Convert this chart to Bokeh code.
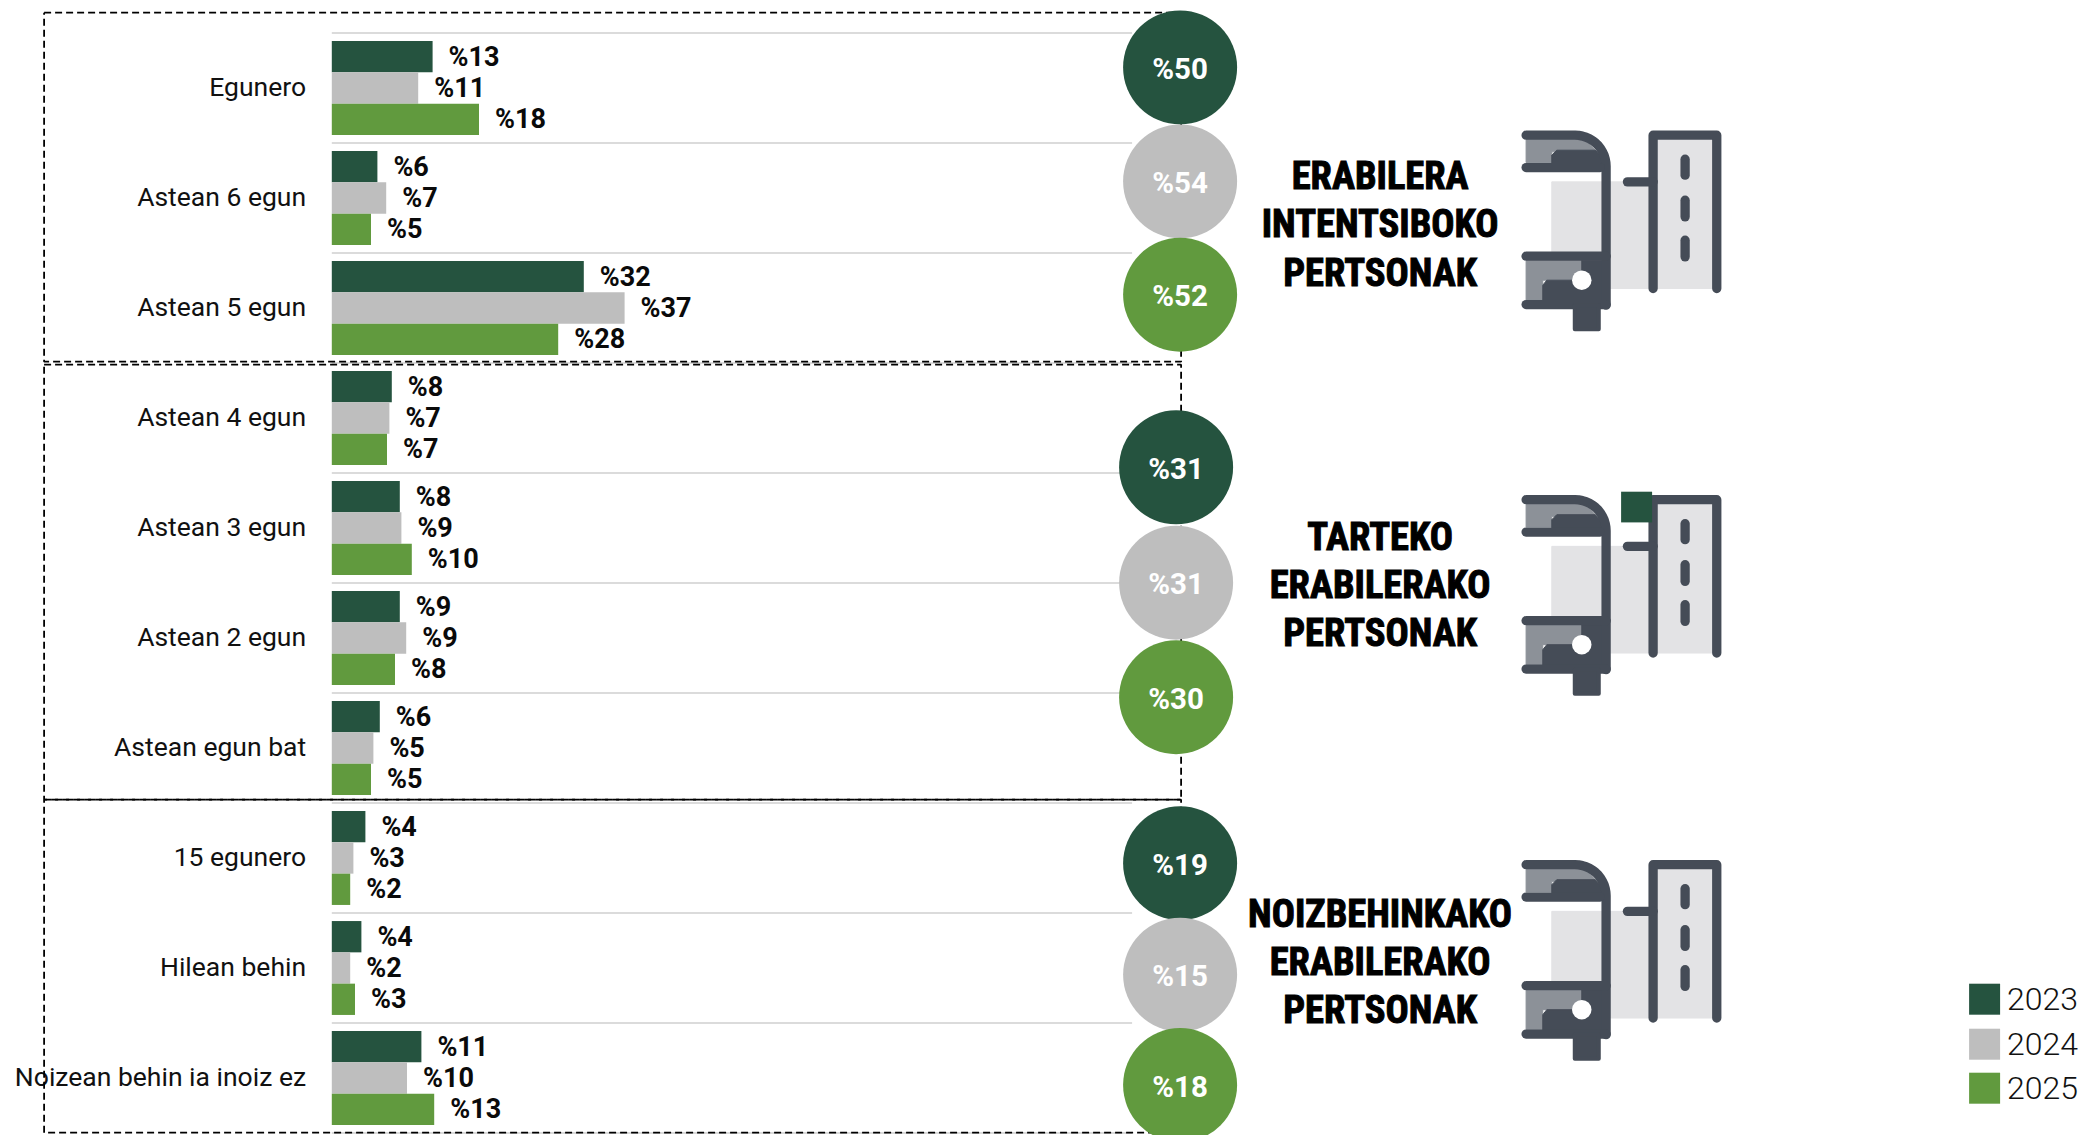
import numpy as np
from bokeh.embed import file_html
from bokeh.models import Range1d
from bokeh.plotting import figure
from bokeh.resources import INLINE
from bokeh.core.properties import value

categories = ["Egunero", "Astean 6 egun", "Astean 5 egun", "Astean 4 egun", "Astean 3 egun",
              "Astean 2 egun", "Astean egun bat", "15 egunero", "Hilean behin", "Noizean behin ia inoiz ez"]
years = ["2023", "2024", "2025"]
colors = ["#25533F", "#BEBEBE", "#619A3E"]
bars_2023 = [12.6, 5.7, 31.5, 7.5, 8.5, 8.5, 6.0, 4.2, 3.7, 11.2]
bars_2024 = [10.8, 6.8, 36.6, 7.2, 8.7, 9.3, 5.2, 2.7, 2.3, 9.4]
bars_2025 = [18.4, 4.9, 28.3, 6.9, 10.0, 7.9, 4.9, 2.3, 2.9, 12.8]
labels_2023 = [13, 6, 32, 8, 8, 9, 6, 4, 4, 11]
labels_2024 = [11, 7, 37, 7, 9, 9, 5, 3, 2, 10]
labels_2025 = [18, 5, 28, 7, 10, 8, 5, 2, 3, 13]
totals = [[50, 54, 52], [31, 31, 30], [19, 15, 18]]
titles = [["ERABILERA", "INTENTSIBOKO", "PERTSONAK"],
          ["TARTEKO", "ERABILERAKO", "PERTSONAK"],
          ["NOIZBEHINKAKO", "ERABILERAKO", "PERTSONAK"]]

W, H = 2083, 1135
SX, SY = 0.4, 0.8
p = figure(width=W, height=H, output_backend="svg", toolbar_location=None,
           x_range=Range1d(SX, W + SX), y_range=Range1d(H + SY, SY),
           x_axis_type=None, y_axis_type=None, min_border=0,
           outline_line_color=None, background_fill_color="white")
p.grid.visible = False

X0, PX = 331.7, 8.0
p.extra_x_ranges["pct"] = Range1d((SX - X0) / PX, (W + SX - X0) / PX)

ROW0, ROW_H, BAR_H = 33.3, 110.0, 31.3
FONT = value("Roboto")
COND = value("Roboto Condensed")

# grid lines
gy = [ROW0 + i * ROW_H for i in range(len(categories) + 1)]
p.segment(x0=[X0] * len(gy), x1=[1132] * len(gy), y0=gy, y1=gy, line_color="#cfcfcf", line_width=1.6)

# bars and their labels
for k, (vals, labs) in enumerate(zip([bars_2023, bars_2024, bars_2025], [labels_2023, labels_2024, labels_2025])):
    ys = [ROW0 + i * ROW_H + 55 + (k - 1) * BAR_H for i in range(len(vals))]
    p.hbar(y=ys, left=0, right=vals, height=BAR_H, x_range_name="pct", fill_color=colors[k], line_color=None)
    p.text(x=vals, y=ys, text=[f"%{v}" for v in labs], x_range_name="pct", x_offset=16,
           text_font=FONT, text_font_style="bold", text_font_size="27px", text_color="#0a0a0a",
           text_align="left", text_baseline="middle")

# category labels
p.text(x=[306] * len(categories), y=[ROW0 + i * ROW_H + 53 for i in range(len(categories))], text=categories,
       text_font=FONT, text_font_size="26.5px", text_color="#111111", text_align="right", text_baseline="middle")

# dashed boxes
for top, bottom in [(13, 362), (365, 800), (800, 1133)]:
    p.line(x=[44, 1181, 1181, 44, 44], y=[top, top, bottom, bottom, top], line_color="#000000",
           line_width=1.8, line_dash="7 4")

# circles
cx = [1180, 1176, 1180]
cy = [[67.7, 181.7, 295], [467.6, 583, 697.5], [863.5, 975, 1085.4]]
for g in range(3):
    p.scatter(x=[cx[g]] * 3, y=cy[g], size=114, marker="circle", fill_color=colors, line_color=None)
    p.text(x=[cx[g]] * 3, y=[v + 1.5 for v in cy[g]], text=[f"%{v}" for v in totals[g]], text_font=FONT,
           text_font_style="bold", text_font_size="29.5px", text_color="white", text_align="center",
           text_baseline="middle")

# group titles
title_y = [[176, 224, 272.7], [536.7, 584.5, 632.4], [914, 962, 1010]]
for g in range(3):
    p.text(x=[1380] * 3, y=title_y[g], text=titles[g], text_font=COND, text_font_style="bold",
           text_font_size="38.5px", text_color="#000000", text_outline_color="#000000",
           text_align="center", text_baseline="middle")

# icon
DARK, MID, LIGHT = "#454C57", "#8C9198", "#E3E3E5"
def icon(ox, oy):
    X = lambda a: [ox + v / 3 for v in a]
    Y = lambda a: [oy + v / 3 for v in a]
    def fill(xs, ys, c):
        p.patch(x=X(xs), y=Y(ys), fill_color=c, line_color=c, line_width=1)
    def stroke(xs, ys):
        p.line(x=X(xs), y=Y(ys), line_color=DARK, line_width=9.3, line_cap="round", line_join="round")
    fill([155, 445, 445, 155], [230, 230, 550, 550], LIGHT)
    fill([459, 650, 650, 459], [90, 90, 550, 550], LIGHT)
    fill([78, 225, 262, 290, 155, 155, 78], [100, 100, 110, 140, 140, 172, 172], MID)
    fill([78, 245, 245, 128, 128, 78], [465, 465, 525, 525, 585, 585], MID)
    fill([155, 170, 285, 318, 318, 155], [150, 135, 135, 165, 187, 187], DARK)
    fill([128, 140, 245, 245, 318, 318, 128], [540, 525, 525, 465, 465, 600, 600], DARK)
    t = np.linspace(-np.pi / 2, 0, 14)
    ax = list(225 + 93 * np.cos(t))
    ay = list(183 + 93 * np.sin(t))
    stroke([78] + ax + [318, 318], [90] + ay + [600, 600])
    stroke([78, 300], [187, 187])
    stroke([78, 318], [453, 453])
    stroke([78, 318], [598, 598])
    p.patch(x=X([224, 296, 296, 224]), y=Y([600, 600, 672, 672]), fill_color=DARK, line_color=DARK,
            line_width=4, line_join="round")
    stroke([459, 459, 650, 650], [550, 90, 90, 550])
    stroke([382, 459], [230, 230])
    for a, b in [(162, 210), (285, 335), (405, 455)]:
        stroke([555, 555], [a, b])
    p.scatter(x=X([245]), y=Y([525]), size=19.5, marker="circle", fill_color="white", line_color=None)

icon_y = [470 - 364.5, 470, 470 + 365]
for oy in icon_y:
    icon(1500, oy)

# stray square over the middle icon
p.quad(left=[1621], right=[1652], top=[492], bottom=[522.7], fill_color=colors[0], line_color=None)

# legend
leg_y = [999.5, 1044.5, 1088.5]
p.rect(x=[1984.5] * 3, y=leg_y, width=31, height=31, fill_color=colors, line_color=None)
p.text(x=[2007] * 3, y=leg_y, text=years, text_font=value("Roboto Light"), text_font_size="32px",
       text_color="#111111", text_align="left", text_baseline="middle")

open("out.html", "w").write(file_html(p, INLINE))
